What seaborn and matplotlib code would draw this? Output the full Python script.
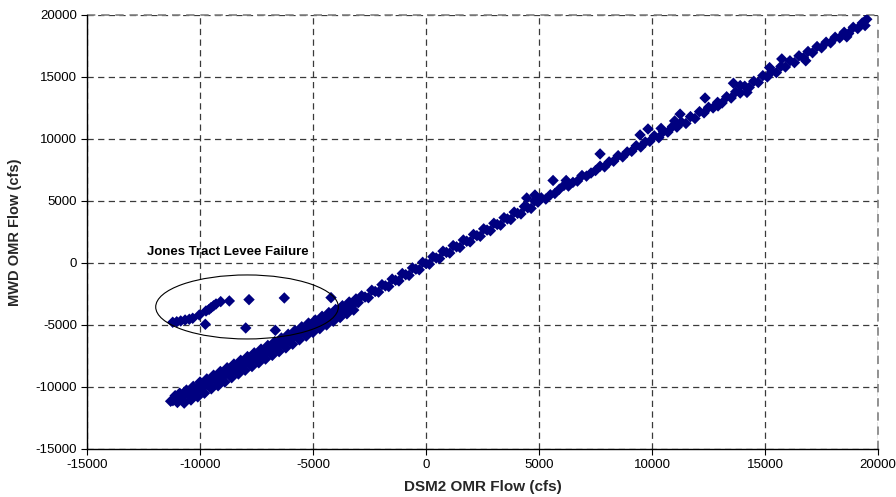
import matplotlib
matplotlib.use("Agg")
import matplotlib.pyplot as plt
import seaborn as sns
import pandas as pd
from matplotlib.patches import Ellipse

# ---- data (cfs) ----
dsm2_low = [-11200, -11100, -11000, -10900, -10800, -10700, -10600, -10500, -10400, -10300,
            -10200, -10100, -10000, -9900, -9800, -9700, -9600, -9500, -9400, -9300,
            -9200, -9100, -9000, -8900, -8800, -8700, -8600, -8500, -8400, -8300,
            -8200, -8100, -8000, -7900, -7800, -7700, -7600, -7500, -7400, -7300,
            -7200, -7100, -7000, -6900, -6800, -6700, -6600, -6500, -6400, -6300,
            -6200, -6100, -6000, -5900, -5800, -5700, -5600, -5500, -5400, -5300,
            -5200, -5100, -5000, -4900, -4800, -4700, -4600, -4500, -4400, -4300,
            -4200, -4100, -4000, -3900, -3800, -3700, -3600, -3500, -3400, -3300,
            -3200, -3100, -3000]
mwd_low = [-11100, -10700, -11250, -10500, -11000, -11300, -10250, -10700, -11050, -9950,
           -10400, -10800, -9600, -10100, -10500, -9350, -9800, -10150, -9050, -9500,
           -9900, -8750, -9200, -9600, -8450, -8900, -9250, -8150, -8600, -8950,
           -7850, -8300, -8650, -7550, -8000, -8350, -7250, -7700, -8050, -6950,
           -7400, -7750, -6650, -7100, -7450, -6350, -6800, -7150, -6050, -6500,
           -6850, -5750, -6200, -6550, -5450, -5900, -6200, -5150, -5600, -5900,
           -4850, -5300, -5600, -4600, -5000, -5300, -4300, -4700, -5000, -4000,
           -4400, -4700, -3750, -4100, -4400, -3450, -3800, -4100, -3150, -3500,
           -3800, -2900, -3200]

# extra points filling the thick lower band
dsm2_fill = [-11300, -11150, -10950, -10750, -10550, -10350, -10150, -9950, -9750, -9550,
             -9350, -9150, -8950, -8750, -8550, -8350, -8150, -7950, -7750, -7550,
             -7350, -7150, -6950, -6750, -6550, -6350, -6150, -5950, -5750, -5550,
             -5350, -5150, -4950, -4750, -4550, -4350, -4150, -3950, -3750, -3550]
mwd_fill = [-11150, -10950, -10850, -10600, -10450, -10250, -10100, -9850, -9700, -9500,
            -9300, -9100, -8950, -8700, -8550, -8300, -8200, -7950, -7800, -7550,
            -7400, -7150, -7000, -6750, -6600, -6350, -6250, -5950, -5850, -5600,
            -5450, -5200, -5100, -4800, -4700, -4400, -4300, -4000, -3900, -3650]

dsm2_mid = [-2850, -2700, -2550, -2400, -2250, -2100, -1950, -1800, -1650, -1500,
            -1350, -1200, -1050, -900, -750, -600, -450, -300, -150, 0,
            150, 300, 450, 600, 750, 900, 1050, 1200, 1350, 1500,
            1650, 1800, 1950, 2100, 2250, 2400, 2550, 2700, 2850, 3000,
            3150, 3300, 3450, 3600, 3750, 3900, 4050, 4200, 4350, 4500,
            4650, 4800, 4950]
mwd_mid = [-2650, -2750, -2800, -2200, -2300, -2350, -1750, -1850, -1900, -1300,
           -1400, -1450, -850, -950, -1000, -400, -500, -550, 50, -50,
           -100, 500, 400, 350, 950, 850, 800, 1400, 1300, 1250,
           1850, 1750, 1700, 2300, 2200, 2150, 2750, 2650, 2600, 3200,
           3100, 3050, 3650, 3550, 3500, 4100, 4000, 3950, 4550, 4450,
           4400, 5000, 4900]

dsm2_high = [5100, 5300, 5500, 5700, 5900, 6100, 6300, 6500, 6700, 6900,
             7100, 7300, 7500, 7700, 7900, 8100, 8300, 8500, 8700, 8900,
             9100, 9300, 9500, 9700, 9900, 10100, 10300, 10500, 10700, 10900,
             11100, 11300, 11500, 11700, 11900, 12100, 12300, 12500, 12700, 12900,
             13100, 13300, 13500, 13700, 13900, 14100, 14300, 14500, 14700, 14900,
             15100, 15300, 15500, 15700, 15900, 16100, 16300, 16500, 16700, 16900,
             17100, 17300, 17500, 17700, 17900, 18100, 18300, 18500, 18700, 18900,
             19100, 19300, 19500]
mwd_high = [5250, 5150, 5500, 5600, 5950, 6250, 6200, 6500, 6600, 7050,
            7000, 7250, 7450, 7800, 7750, 8150, 8200, 8650, 8550, 8950,
            9000, 9450, 9350, 9750, 9800, 10250, 10100, 10600, 10550, 11000,
            10950, 11350, 11250, 11800, 11650, 12200, 12100, 12550, 12500, 12950,
            12900, 13400, 13300, 13800, 13700, 14250, 14150, 14650, 14550, 15100,
            15000, 15450, 15350, 15850, 15800, 16300, 16150, 16700, 16550, 17050,
            16950, 17450, 17350, 17800, 17750, 18200, 18150, 18600, 18500, 19000,
            18900, 19350, 19650]

dsm2_scatter = [12345, 11240, 15740, 12920, 18615, 9470, 7700, 4820, 4455, 19425,
                9820, 5620, 13600, 13900, 14200, 16800, 11000, 10400, 6200, 15200]
mwd_scatter = [13300, 12000, 16450, 12660, 18230, 10320, 8790, 5480, 5240, 19140,
               10800, 6650, 14490, 14300, 13750, 16300, 11450, 10850, 6650, 15750]

dsm2_jones = [-11208, -11030, -10854, -10660, -10473, -10323, -10031, -9735, -9600, -9513,
              -9400, -9292, -9085, -8703, -7832, -6270, -4204, -9765, -7978, -6668]
mwd_jones = [-4782, -4740, -4677, -4600, -4540, -4460, -4194, -3871, -3750, -3602,
             -3450, -3306, -3118, -3065, -2957, -2823, -2796, -4946, -5242, -5430]

ticks = [-15000, -10000, -5000, 0, 5000, 10000, 15000, 20000]

df = pd.DataFrame({
    "DSM2": dsm2_low + dsm2_fill + dsm2_mid + dsm2_high + dsm2_scatter + dsm2_jones,
    "MWD": mwd_low + mwd_fill + mwd_mid + mwd_high + mwd_scatter + mwd_jones,
})

sns.set_theme(style="white")
plt.rcParams["font.family"] = ["Liberation Sans", "DejaVu Sans"]

fig = plt.figure(figsize=(8.96, 4.97), dpi=100)
ax = fig.add_axes([0.0971, 0.0966, 0.8829, 0.8734])

sns.scatterplot(data=df, x="DSM2", y="MWD", marker="D", s=34, color="#000080",
                edgecolor="none", linewidth=0, ax=ax, zorder=3, legend=False)

ax.set_xlim(-15000, 20000)
ax.set_ylim(-15000, 20000)
ax.set_xticks(ticks)
ax.set_yticks(ticks)
ax.set_xticklabels([str(t) for t in ticks], fontsize=9.5)
ax.set_yticklabels([str(t) for t in ticks], fontsize=9.5)
ax.tick_params(axis="both", which="both", bottom=True, left=True, direction="out",
               length=4, width=0.8, color="black", pad=3, labelcolor="black")

ax.grid(True, color="#3a3a3a", linestyle=(0, (5, 3.5)), linewidth=0.9, zorder=0)
ax.set_axisbelow(True)
for side in ["top", "right"]:
    ax.spines[side].set_visible(False)
for side in ["left", "bottom"]:
    ax.spines[side].set_color("black")
    ax.spines[side].set_linewidth(1.0)

# grid lines at the top and right limits (gray dashed border)
ax.axhline(20000, color="#808080", linestyle=(0, (5, 3.5)), linewidth=1.2, zorder=1, clip_on=False)
ax.axvline(20000, color="#808080", linestyle=(0, (5, 3.5)), linewidth=1.2, zorder=1, clip_on=False)

ell = Ellipse((-7920, -3548), width=8080, height=5161, fill=False,
              edgecolor="black", linewidth=0.8, zorder=4)
ax.add_patch(ell)
ax.text(-12350, 900, "Jones Tract Levee Failure", fontsize=9.5, fontweight="bold",
        ha="left", va="center", color="black")

ax.set_xlabel("DSM2 OMR Flow (cfs)", fontsize=11, fontweight="bold", labelpad=7)
ax.set_ylabel("MWD OMR Flow (cfs)", fontsize=10.5, fontweight="bold", labelpad=10)

fig.savefig("out.png", dpi=100)
